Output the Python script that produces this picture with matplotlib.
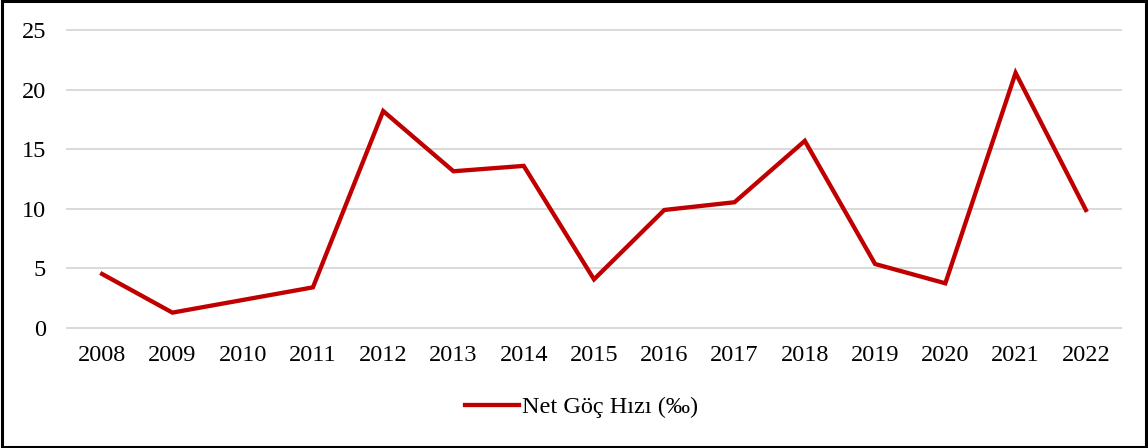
import matplotlib
matplotlib.use("Agg")
import matplotlib.pyplot as plt
from matplotlib.patches import Rectangle

years = ["2008", "2009", "2010", "2011", "2012", "2013", "2014", "2015",
         "2016", "2017", "2018", "2019", "2020", "2021", "2022"]
net_goc_hizi = [4.53, 1.29, 2.35, 3.41, 18.2, 13.15, 13.6, 4.08,
                9.9, 10.55, 15.7, 5.37, 3.75, 21.4, 9.9]
y_ticks = [0, 5, 10, 15, 20, 25]
series_label = "Net Göç Hızı (‰)"

plt.rcParams["font.family"] = ["Liberation Serif", "DejaVu Serif"]

fig = plt.figure(figsize=(11.48, 4.48), dpi=100)
ax = fig.add_axes([67 / 1148, 1 - 328 / 448, (1121 - 67) / 1148, (328 - 30) / 448])

xs = list(range(len(years)))
line, = ax.plot(xs, net_goc_hizi, color="#C00000", linewidth=3.1,
                solid_joinstyle="miter", label=series_label, zorder=3)

ax.set_xlim(-0.5, len(years) - 0.5)
ax.set_ylim(0, 25)
ax.set_yticks(y_ticks)
ax.set_xticks(xs)
ax.set_xticklabels(years)
ax.tick_params(axis="both", length=0, labelsize=17.5, colors="black")
ax.tick_params(axis="y", pad=15)
ax.tick_params(axis="x", pad=12)
ax.grid(axis="y", color="#D9D9D9", linewidth=1.4, zorder=0)
for gl in ax.get_ygridlines():
    gl.set_clip_on(False)
ax.set_axisbelow(True)
for s in ax.spines.values():
    s.set_visible(False)

fig.legend(handles=[line], loc="center", bbox_to_anchor=(582 / 1148, 1 - 407 / 448),
           frameon=False, fontsize=17.5, handlelength=2.2, handletextpad=0.15)

# black frame around the whole chart
fig.patches.append(Rectangle((0.002, 0.003), 0.996, 0.994, transform=fig.transFigure,
                             fill=False, edgecolor="black", linewidth=2.2))

fig.savefig("out.png", dpi=100)
